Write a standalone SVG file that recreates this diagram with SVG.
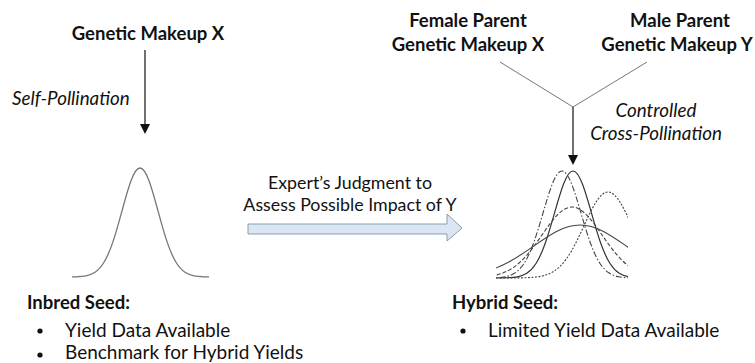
<svg xmlns="http://www.w3.org/2000/svg" xmlns:xlink="http://www.w3.org/1999/xlink" width="755" height="363" viewBox="0 0 755 363">
  <style>
    text { font-family: Lato, "Liberation Sans", sans-serif; fill: #111; }
    .b { font-weight: bold; font-size: 18.5px; }
    .r { font-size: 17.8px; }
    .l { font-size: 19px; }
    .i { font-style: italic; font-size: 18.8px; }
    .edge { stroke: #111; stroke-width: 1.2; fill: none; }
    .thin { stroke: #777; stroke-width: 1; fill: none; }
    #gauss { fill: none; vector-effect: non-scaling-stroke; }
  </style>
  <defs>
    <!-- standard normal curve: 10 units per sigma, peak height 100 -->
    <path id="gauss" d="M -45,0 L -40,-0.03 L -35,-0.22
      C -33.333,-0.348 -31.667,-0.555 -30,-1.11
      C -28.333,-1.665 -26.667,-2.561 -25,-4.39
      C -23.333,-6.219 -21.667,-9.02 -20,-13.53
      C -18.333,-18.04 -16.667,-24.352 -15,-32.47
      C -13.333,-40.588 -11.667,-50.542 -10,-60.65
      C -8.333,-70.758 -6.667,-80.895 -5,-88.25
      C -3.333,-95.605 -1.667,-100 0,-100
      C 1.667,-100 3.333,-95.605 5,-88.25
      C 6.667,-80.895 8.333,-70.758 10,-60.65
      C 11.667,-50.542 13.333,-40.588 15,-32.47
      C 16.667,-24.352 18.333,-18.04 20,-13.53
      C 21.667,-9.02 23.333,-6.219 25,-4.39
      C 26.667,-2.561 28.333,-1.665 30,-1.11
      C 31.667,-0.555 33.333,-0.348 35,-0.22
      L 40,-0.03 L 45,0"/>
    <clipPath id="clip-inbred"><rect x="72" y="150" width="137" height="135"/></clipPath>
    <clipPath id="clip-hybrid"><rect x="496" y="150" width="132" height="135"/></clipPath>
  </defs>

  <!-- connectors -->
  <g id="connectors">
    <line class="edge" x1="145" y1="50" x2="145" y2="125"/>
    <polygon points="140,124 150,124 145,134" fill="#111"/>
    <line class="thin" x1="500" y1="62" x2="573" y2="107"/>
    <line class="thin" x1="647" y1="62" x2="573" y2="107"/>
    <line class="edge" x1="573" y1="107" x2="573" y2="156"/>
    <polygon points="568,155 578,155 573,165" fill="#111"/>
    <text class="i" x="12" y="105">Self-Pollination</text>
    <text class="i" x="656" y="117" text-anchor="middle">Controlled</text>
    <text class="i" x="656" y="140" text-anchor="middle">Cross-Pollination</text>
    <g id="assessment">
      <polygon points="248,224 447,224 447,214 462,228 447,241 447,234 248,234" fill="#dce6f2" stroke="#8a9db3" stroke-width="1"/>
      <text class="r" x="350" y="189" text-anchor="middle">Expert’s Judgment to</text>
      <text class="r" x="350" y="211" text-anchor="middle">Assess Possible Impact of Y</text>
    </g>
  </g>

  <g id="inbred-parent">
    <text class="b" x="148" y="40" text-anchor="middle">Genetic Makeup X</text>
  </g>

  <g id="female-parent">
    <text class="b" x="468" y="27" text-anchor="middle">Female Parent</text>
    <text class="b" x="468" y="51" text-anchor="middle">Genetic Makeup X</text>
  </g>

  <g id="male-parent">
    <text class="b" x="680" y="27" text-anchor="middle">Male Parent</text>
    <text class="b" x="677" y="51" text-anchor="middle">Genetic Makeup Y</text>
  </g>

  <g id="inbred-seed">
    <g clip-path="url(#clip-inbred)">
      <use xlink:href="#gauss" stroke="#777" stroke-width="1.3" transform="translate(140,277) scale(1.8,1.09)"/>
    </g>
    <text class="b" x="27" y="309">Inbred Seed:</text>
    <circle cx="40" cy="331" r="2.6" fill="#111"/>
    <text class="l" x="65" y="337">Yield Data Available</text>
    <circle cx="40" cy="355" r="2.6" fill="#111"/>
    <text class="l" x="65" y="359">Benchmark for Hybrid Yields</text>
  </g>

  <g id="hybrid-seed">
    <g clip-path="url(#clip-hybrid)">
      <use xlink:href="#gauss" stroke="#333" stroke-width="1.2" transform="translate(573,278) scale(1.85,1.07)"/>
      <use xlink:href="#gauss" stroke="#444" stroke-width="1.1" stroke-dasharray="6 2 1.5 2" transform="translate(562,278) scale(1.9,1.07)"/>
      <use xlink:href="#gauss" stroke="#444" stroke-width="1.1" stroke-dasharray="4 2" transform="translate(572,278) scale(3.0,0.71)"/>
      <use xlink:href="#gauss" stroke="#444" stroke-width="1.1" stroke-dasharray="2 1.5" transform="translate(608,278) scale(2.4,0.86)"/>
      <use xlink:href="#gauss" stroke="#444" stroke-width="1.1" transform="translate(580,278) scale(4.6,0.53)"/>
    </g>
    <text class="b" x="452" y="309">Hybrid Seed:</text>
    <circle cx="463" cy="331" r="2.6" fill="#111"/>
    <text class="l" x="488" y="337">Limited Yield Data Available</text>
  </g>
</svg>
